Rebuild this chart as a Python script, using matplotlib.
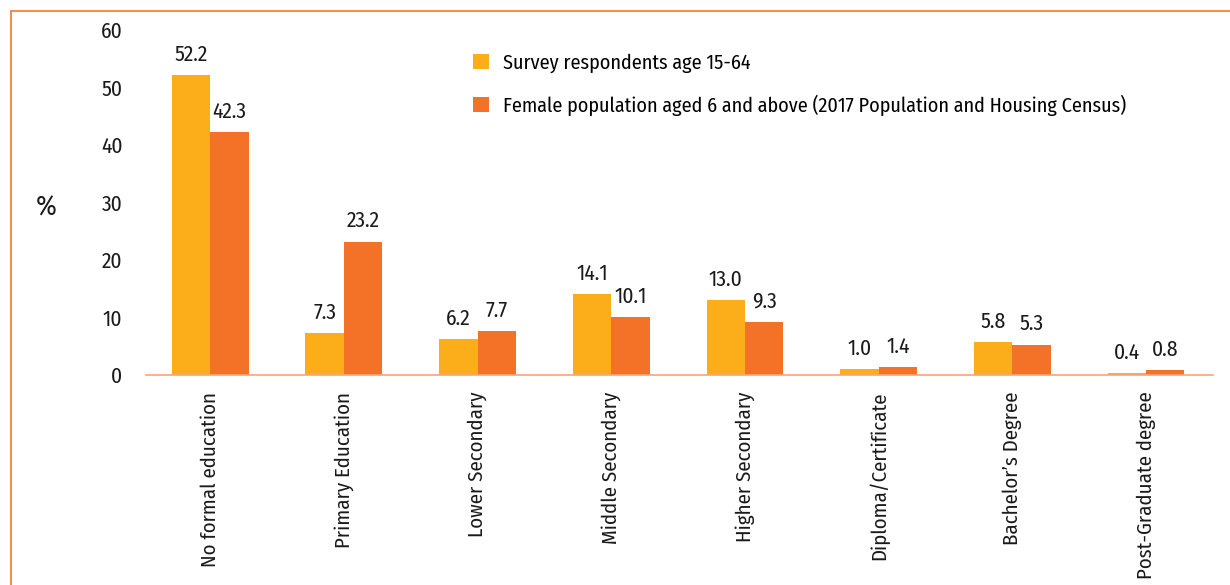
import matplotlib
matplotlib.use("Agg")
import matplotlib.pyplot as plt
from matplotlib.patches import Rectangle
import numpy as np

plt.rcParams['font.family'] = ['Fira Sans Condensed', 'Fira Sans Extra Condensed', 'DejaVu Sans']

categories = ["No formal education", "Primary Education", "Lower Secondary",
              "Middle Secondary", "Higher Secondary", "Diploma/Certificate",
              "Bachelor\u2019s Degree", "Post-Graduate degree"]
survey = [52.2, 7.3, 6.2, 14.1, 13.0, 1.0, 5.8, 0.4]
census = [42.3, 23.2, 7.7, 10.1, 9.3, 1.4, 5.3, 0.8]
series_names = ["Survey respondents age 15-64",
                "Female population aged 6 and above (2017 Population and Housing Census)"]

YELLOW = "#FBAE1A"
ORANGE = "#F37227"
TXT = "#1a1a1a"

fig = plt.figure(figsize=(12.3, 5.85), dpi=100)
ax = fig.add_axes([0.1187, 0.359, 0.8673, 0.5897])

x = np.arange(len(categories))
w = 0.287
b1 = ax.bar(x - w / 2, survey, w, color=YELLOW, label=series_names[0], zorder=2)
b2 = ax.bar(x + w / 2, census, w, color=ORANGE, label=series_names[1], zorder=2)

for bars, vals in ((b1, survey), (b2, census)):
    for r, v in zip(bars, vals):
        ax.annotate(f"{v:.1f}", (r.get_x() + r.get_width() / 2, v),
                    xytext=(0, 7), textcoords="offset points",
                    ha="center", va="bottom", fontsize=15.5, color=TXT)

ax.set_xlim(-0.48, 7.5)
ax.set_ylim(0, 60)
ax.set_yticks(range(0, 61, 10))
ax.set_xticks(x)
ax.set_xticklabels(categories, rotation=90, fontsize=15, color=TXT)
ax.tick_params(axis="both", length=0, colors=TXT)
ax.tick_params(axis="y", labelsize=15.5, pad=17)
ax.tick_params(axis="x", pad=12)
for s in ("top", "right", "left"):
    ax.spines[s].set_visible(False)
ax.spines["bottom"].set_color("#F5A67A")
ax.spines["bottom"].set_linewidth(1.2)
ax.set_facecolor("none")

fig.text(46 / 1230, 1 - 208 / 585, "%", fontsize=20, ha="center", va="center", color=TXT)

ax.legend(loc="upper left", bbox_to_anchor=(0.29, 0.985), frameon=False,
          fontsize=14.5, handlelength=0.75, handleheight=0.8, handletextpad=0.7,
          labelspacing=1.05)

fig.patches.append(Rectangle((11 / 1230, -0.05), 1.2, 1 - 11 / 585 + 0.05,
                             transform=fig.transFigure, fill=False,
                             edgecolor="#F28E52", linewidth=1.5))

fig.savefig("out.png", dpi=100)
